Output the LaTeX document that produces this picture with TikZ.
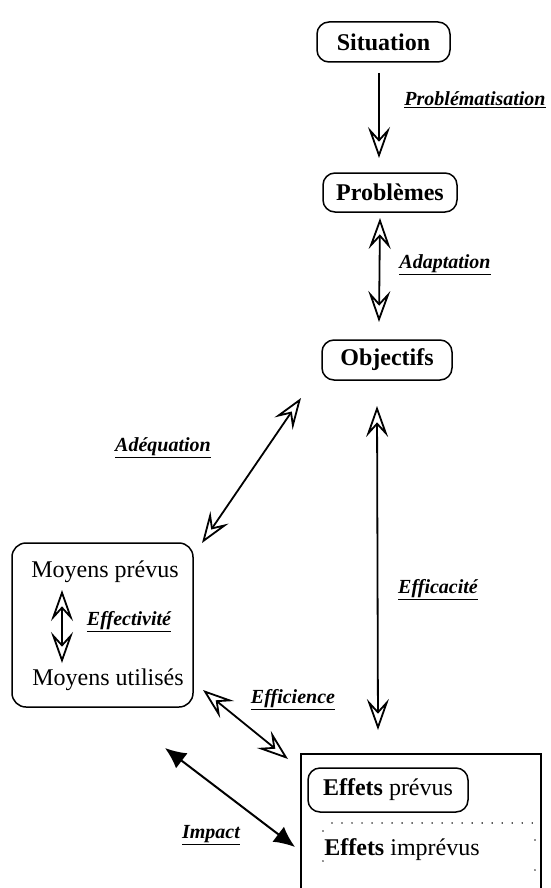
\documentclass[tikz,border=0pt]{standalone}
\usepackage{fontspec}
\setmainfont{Liberation Serif}
\usetikzlibrary{arrows.meta}
\begin{document}
\begin{tikzpicture}[x=1pt,y=-1pt,
  oh/.tip={Stealth[open,length=31pt,width=22pt,inset=12pt]},
  fh/.tip={Latex[length=21pt,width=19pt]},
  box/.style={draw, line width=1.5pt, rounded corners=12pt, inner sep=0pt, font=\fontsize{24}{28}\selectfont\bfseries},
  frame/.style={draw, line width=1.7pt, inner sep=0pt},
  txt/.style={inner sep=0pt, font=\fontsize{24}{28}\selectfont},
  lbl/.style={inner sep=0pt, font=\fontsize{20}{24}\selectfont\bfseries\itshape},
  oarr/.style={line width=1.8pt, -oh},
  darr/.style={line width=1.8pt, oh-oh},
  farr/.style={line width=2pt, fh-fh},
  dotline/.style={line width=1.4pt, dash pattern=on 0.01pt off 10pt, line cap=round},
  sparsedot/.style={line width=1.4pt, dash pattern=on 0.01pt off 30pt, line cap=round}
]
\useasboundingbox (0,0) rectangle (550,888);
\fill[white] (0,0) rectangle (550,888);
\begin{scope}
\clip (0,0) rectangle (550,888);
% nodes
\node[box, minimum width=133pt, minimum height=40pt] (sit) at (383.5,42) {Situation};
\node[box, minimum width=134pt, minimum height=39pt] (pro) at (390,192.5) {Problèmes};
\node[box, minimum width=130pt, minimum height=40pt] (obj) at (387,360) {Objectifs};
\node[frame, rounded corners=14pt, line width=1.5pt, minimum width=181pt, minimum height=164pt] (moy) at (102.5,625) {};
\node[txt] (mp) at (105,572) {Moyens prévus};
\node[txt] (mu) at (108,680) {Moyens utilisés};
\node[frame, minimum width=240pt, minimum height=150pt] (eff) at (421,829) {};
\node[box, font=\fontsize{24}{28}\selectfont, minimum width=160pt, minimum height=44pt] (ep) at (388,790) {\textbf{Effets} prévus};
\node[txt] (ei) at (402,850) {\textbf{Effets} imprévus};
\draw[dotline] (332,823) -- (535,823);
\draw[sparsedot] (323,831) -- (323,900);
\draw[sparsedot] (535,840) -- (535,900);
% arrow end points
\coordinate (p1) at (379,73);
\coordinate (p2) at (379,158);
\coordinate (q1) at (380,218);
\coordinate (q2) at (379,322);
\coordinate (r1) at (301,398);
\coordinate (r2) at (202,543);
\coordinate (s1) at (377,406);
\coordinate (s2) at (378,730);
\coordinate (t1) at (62,590);
\coordinate (t2) at (62,663);
\coordinate (u1) at (203,690);
\coordinate (u2) at (288,759);
\coordinate (v1) at (165,748);
\coordinate (v2) at (295,847);
% connectors
\draw[oarr] (p1) -- (p2);
\draw[darr] (q1) -- (q2);
\draw[darr] (r1) -- (r2);
\draw[darr] (s1) -- (s2);
\draw[darr] (t1) -- (t2);
\draw[darr] (u1) -- (u2);
\draw[farr] (v1) -- (v2);
% labels
\node[lbl] at (475,100) {\underline{Problématisation}};
\node[lbl] at (445,265) {\underline{Adaptation}};
\node[lbl] at (163,448) {\underline{Adéquation}};
\node[lbl] at (438,590) {\underline{Efficacité}};
\node[lbl] at (129,622) {\underline{Effectivité}};
\node[lbl] at (293,700) {\underline{Efficience}};
\node[lbl] at (211,835) {\underline{Impact}};
\end{scope}
\end{tikzpicture}
\end{document}
